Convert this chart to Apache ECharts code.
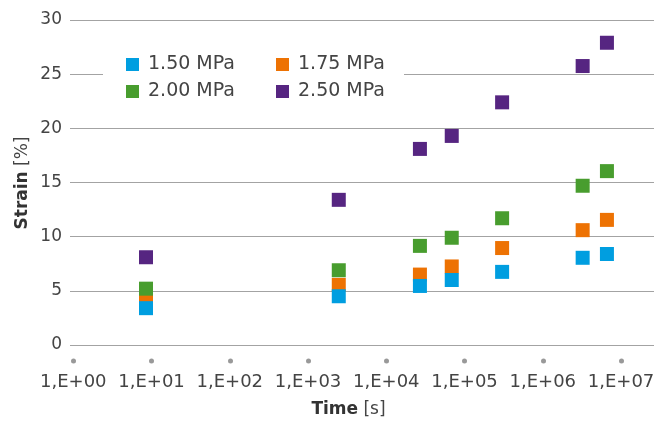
<!DOCTYPE html>
<html>
<head>
<meta charset="utf-8">
<script src="https://cdn.jsdelivr.net/npm/echarts@6/dist/echarts.min.js"></script>
<style>html,body{margin:0;padding:0;background:#fff;}#c{width:669px;height:426px;}</style>
</head>
<body>
<div id="c"></div>
<script>
// Time in seconds (x positions shared by all series)
const times = [8.5, 2470, 26900, 68600, 302000, 3230000, 6600000];
const seriesNames = ['1.50 MPa', '1.75 MPa', '2.00 MPa', '2.50 MPa'];
const strain150 = [3.4, 4.5, 5.45, 6.0, 6.75, 8.05, 8.4];
const strain175 = [4.3, 5.55, 6.5, 7.25, 8.95, 10.6, 11.55];
const strain200 = [5.2, 6.9, 9.15, 9.9, 11.7, 14.7, 16.05];
const strain250 = [8.1, 13.4, 18.1, 19.3, 22.4, 25.75, 27.9];
const xTickValues = [1, 10, 100, 1000, 10000, 100000, 1000000, 10000000];
const xTickLabels = ['1,E+00', '1,E+01', '1,E+02', '1,E+03', '1,E+04', '1,E+05', '1,E+06', '1,E+07'];
const yTickValues = [0, 5, 10, 15, 20, 25, 30];

const colors = {
  '1.50 MPa': '#009ee0',
  '1.75 MPa': '#ed7203',
  '2.00 MPa': '#489d2e',
  '2.50 MPa': '#562581'
};
const FONT = 'DejaVu Sans';
const TXT = '#444444';

function pairs(vals) { return times.map((t, i) => [t, vals[i]]); }
const seriesData = {
  '1.50 MPa': strain150,
  '1.75 MPa': strain175,
  '2.00 MPa': strain200,
  '2.50 MPa': strain250
};
// draw order: orange, green, blue, purple
const drawOrder = ['1.75 MPa', '2.00 MPa', '1.50 MPa', '2.50 MPa'];

const legendCommon = {
  icon: 'rect',
  itemWidth: 13,
  itemHeight: 13,
  itemGap: 36,
  orient: 'horizontal',
  left: 103,
  padding: [6, 14, 8, 23],
  backgroundColor: '#ffffff',
  selectedMode: false,
  textStyle: {
    fontFamily: FONT, fontSize: 19, color: TXT,
    width: 92, lineHeight: 15, padding: [0, 0, 0, 4], overflow: 'none'
  }
};

const chart = echarts.init(document.getElementById('c'), null, { renderer: 'canvas' });
chart.setOption({
  animation: false,
  backgroundColor: '#ffffff',
  grid: { left: 70, right: 15, top: 20, bottom: 81, containLabel: false },
  xAxis: {
    type: 'log',
    logBase: 10,
    min: Math.pow(10, -0.042),
    max: Math.pow(10, 7.421),
    axisLine: { show: false },
    splitLine: { show: false },
    axisTick: {
      show: true,
      customValues: xTickValues,
      length: 17,
      lineStyle: { color: '#999999', width: 5, cap: 'round', type: [0.01, 100], dashOffset: -16 }
    },
    axisLabel: {
      customValues: xTickValues,
      margin: 28,
      fontFamily: FONT, fontSize: 18, color: TXT,
      formatter: function (v) {
        const i = xTickValues.findIndex(t => Math.abs(Math.log10(t) - Math.log10(v)) < 1e-6);
        return i >= 0 ? xTickLabels[i] : '';
      }
    }
  },
  yAxis: {
    type: 'value',
    min: 0, max: 30, interval: 5,
    axisLine: { show: false },
    axisTick: { show: false },
    axisLabel: { margin: 8, fontFamily: FONT, fontSize: 17, color: TXT },
    splitLine: { show: true, lineStyle: { color: '#a3a3a3', width: 1 } }
  },
  legend: [
    Object.assign({}, legendCommon, { top: 49, data: [seriesNames[0], seriesNames[1]] }),
    Object.assign({}, legendCommon, { top: 76, data: [seriesNames[2], seriesNames[3]] })
  ],
  graphic: [
    {
      type: 'text', x: 348.5, y: 410,
      style: {
        text: '{b|Time} {n|[s]}',
        align: 'center', verticalAlign: 'middle',
        rich: {
          b: { fontFamily: FONT, fontSize: 17, fontWeight: 'bold', fill: '#333333' },
          n: { fontFamily: FONT, fontSize: 17, fill: TXT }
        },
        fontFamily: FONT, fontSize: 17
      }
    },
    {
      type: 'text', x: 23, y: 183, rotation: Math.PI / 2,
      style: {
        text: '{b|Strain} {n|[%]}',
        align: 'center', verticalAlign: 'middle',
        rich: {
          b: { fontFamily: FONT, fontSize: 17, fontWeight: 'bold', fill: '#333333' },
          n: { fontFamily: FONT, fontSize: 17, fill: TXT }
        },
        fontFamily: FONT, fontSize: 17
      }
    }
  ],
  series: drawOrder.map(name => ({
    name: name,
    type: 'scatter',
    symbol: 'rect',
    symbolSize: 14,
    itemStyle: { color: colors[name], opacity: 1 },
    emphasis: { disabled: true },
    data: pairs(seriesData[name])
  }))
});
</script>
</body>
</html>
